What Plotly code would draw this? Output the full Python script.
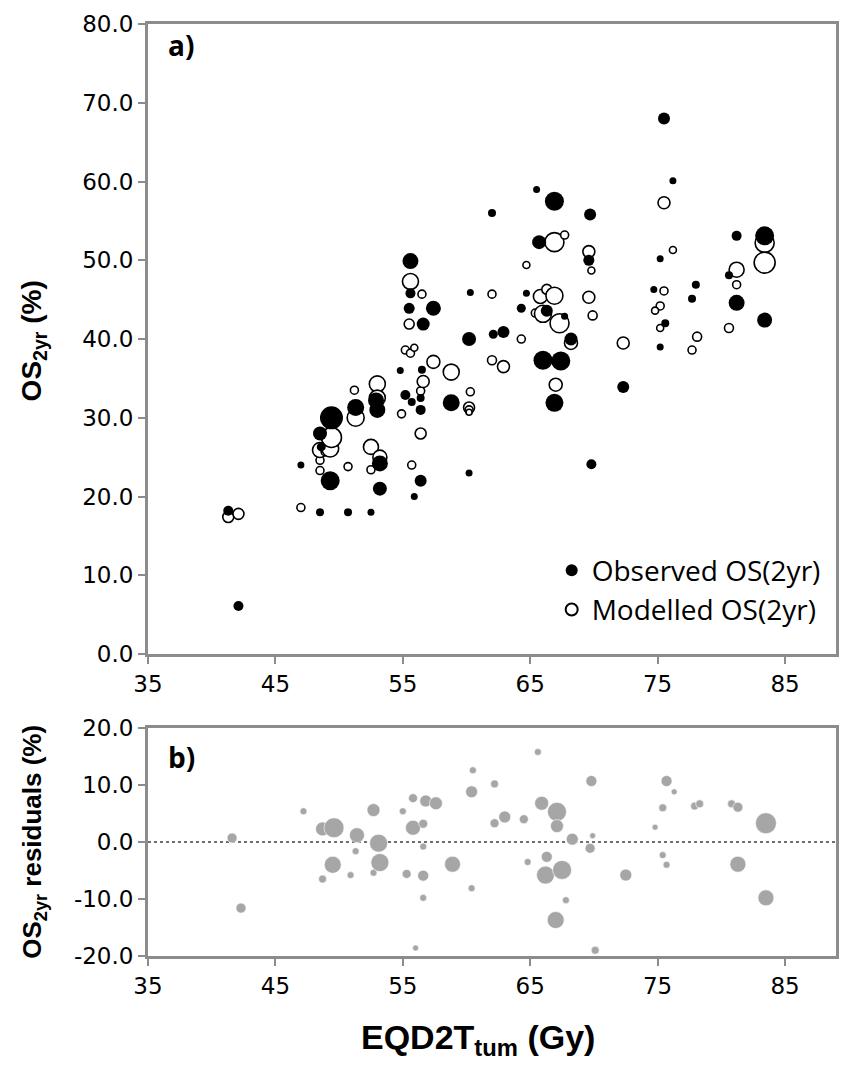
import plotly.graph_objects as go

# ---------------- data ----------------
# Observed OS(2yr): EQD2T_tum (Gy), OS (%), bubble weight
obs_x = [41.3, 42.1, 47.0, 48.5, 50.7, 52.5, 48.5, 48.6, 49.4, 49.3, 51.3, 52.9, 53.0, 53.2, 53.2,
         54.8, 55.2, 55.7, 56.4, 56.4, 56.4, 55.9, 56.5, 55.6, 55.6, 55.5, 57.4, 56.6, 58.8, 60.2,
         62.1, 62.9, 60.3, 60.2, 62.0, 64.7, 64.3, 65.5, 66.9, 65.7, 66.3, 67.7, 68.2, 66.0, 67.4,
         66.9, 69.7, 69.6, 69.8, 72.3, 75.5, 76.2, 75.2, 74.7, 78.0, 77.7, 75.6, 75.2, 81.2, 83.4,
         80.6, 81.2, 83.4]
obs_y = [18.2, 6.1, 24.0, 18.0, 18.0, 18.0, 28.0, 26.3, 30.0, 22.0, 31.3, 32.2, 31.0, 24.2, 21.0,
         36.0, 32.9, 32.0, 32.5, 31.0, 22.0, 20.0, 36.1, 49.9, 45.8, 43.9, 43.9, 41.9, 31.9, 40.0,
         40.6, 40.9, 45.9, 23.0, 56.0, 45.8, 43.9, 59.0, 57.5, 52.3, 43.6, 42.9, 40.0, 37.3, 37.2,
         31.9, 55.8, 50.0, 24.1, 33.9, 68.0, 60.1, 50.2, 46.3, 46.9, 45.1, 42.0, 39.0, 53.1, 53.1,
         48.1, 44.6, 42.4]
obs_n = [100, 100, 49, 64, 64, 49, 196, 81, 529, 361, 289, 256, 256, 256, 196,
         49, 100, 64, 64, 100, 144, 49, 64, 256, 100, 121, 225, 169, 289, 196,
         81, 144, 49, 49, 64, 49, 81, 49, 361, 196, 144, 49, 169, 361, 361,
         324, 144, 121, 100, 144, 144, 49, 49, 49, 64, 64, 64, 49, 100, 361,
         64, 256, 225]

# Modelled OS(2yr)
mod_x = [41.3, 42.1, 47.0, 48.5, 48.5, 48.5, 48.9, 49.3, 49.4, 50.7, 51.2, 51.3, 52.5, 52.5, 53.0,
         53.0, 53.2, 54.9, 55.2, 55.6, 55.9, 55.7, 56.4, 56.6, 56.4, 55.6, 56.5, 55.5, 57.4, 58.8,
         60.3, 60.2, 60.2, 60.2, 62.0, 62.0, 62.9, 64.3, 64.7, 65.4, 65.8, 66.3, 66.9, 66.0, 67.3,
         66.9, 67.7, 67.0, 68.2, 69.6, 69.8, 69.6, 69.9, 72.3, 75.5, 76.2, 75.5, 75.2, 74.8, 75.2,
         78.1, 77.7, 81.2, 81.2, 80.6, 83.4, 83.4]
mod_y = [17.4, 17.8, 18.6, 24.6, 23.3, 25.9, 25.7, 26.1, 27.5, 23.8, 33.5, 30.0, 26.3, 23.4, 34.3,
         32.5, 25.0, 30.5, 38.6, 38.2, 38.9, 24.0, 33.4, 34.6, 28.0, 47.3, 45.7, 41.9, 37.1, 35.8,
         33.3, 31.3, 31.0, 30.7, 45.7, 37.3, 36.5, 40.0, 49.4, 43.3, 45.4, 46.3, 45.5, 43.2, 42.0,
         52.3, 53.2, 34.2, 39.5, 51.1, 48.7, 45.3, 43.0, 39.5, 57.3, 51.3, 46.1, 44.2, 43.6, 41.4,
         40.3, 38.6, 48.8, 46.9, 41.4, 52.2, 49.7]
mod_n = [121, 121, 64, 64, 64, 225, 64, 289, 400, 64, 64, 289, 225, 64, 256,
         256, 196, 64, 64, 64, 49, 64, 64, 144, 121, 256, 64, 100, 169, 256,
         64, 121, 64, 36, 64, 81, 144, 64, 49, 64, 196, 100, 289, 289, 361,
         361, 64, 169, 169, 144, 49, 144, 81, 144, 144, 49, 64, 64, 49, 49,
         81, 64, 225, 64, 81, 361, 441]

# Residuals (observed - modelled), %
res_x = [41.6, 42.3, 47.2, 48.7, 49.6, 51.4, 52.7, 53.1, 51.3, 49.5, 48.7, 50.9, 52.7, 53.2, 55.0,
         55.8, 56.8, 57.6, 55.8, 56.6, 56.6, 55.3, 56.6, 56.6, 58.9, 60.4, 60.5, 60.4, 62.2, 62.2,
         63.0, 64.5, 65.6, 65.9, 67.1, 67.1, 68.3, 69.8, 69.9, 69.7, 64.8, 66.3, 66.2, 67.5, 67.8,
         67.0, 72.5, 75.7, 76.3, 75.4, 74.8, 75.4, 75.7, 77.9, 78.3, 80.8, 81.3, 83.5, 81.3, 83.5,
         56.0, 70.1]
res_y = [0.7, -11.6, 5.4, 2.3, 2.5, 1.2, 5.6, -0.2, -1.6, -4.0, -6.5, -5.8, -5.4, -3.6, 5.4,
         7.7, 7.2, 6.8, 2.5, 3.2, -0.8, -5.6, -5.9, -9.8, -3.9, 8.8, 12.6, -8.1, 10.2, 3.3,
         4.4, 4.0, 15.8, 6.8, 5.3, 2.8, 0.5, 10.7, 1.1, -1.1, -3.5, -2.6, -5.8, -4.9, -10.2,
         -13.7, -5.8, 10.7, 8.8, 6.0, 2.6, -2.3, -4.0, 6.3, 6.7, 6.7, 6.1, 3.3, -3.9, -9.8,
         -18.6, -19.0]
res_n = [100, 100, 49, 196, 400, 225, 169, 324, 49, 289, 64, 49, 49, 324, 49,
         81, 144, 169, 225, 81, 49, 81, 121, 49, 256, 144, 49, 49, 64, 81,
         144, 81, 49, 196, 361, 169, 144, 121, 36, 100, 49, 121, 324, 361, 49,
         289, 144, 121, 36, 64, 36, 49, 49, 64, 64, 64, 100, 441, 256, 256,
         36, 64]

x_ticks = [35, 45, 55, 65, 75, 85]
y1_ticks = [0, 10, 20, 30, 40, 50, 60, 70, 80]
y2_ticks = [-20, -10, 0, 10, 20]
y2_ticktext = ["-20.0", "-10.0", "0.0", "10.0", "20.0"]

# ---------------- figure ----------------
AX = "#8c8c8c"
TICKFONT = dict(family="DejaVu Sans", size=23, color="#000000")

fig = go.Figure()

fig.add_trace(go.Scatter(
    x=mod_x, y=mod_y, mode="markers", name="Modelled OS(2yr)", legendrank=2,
    marker=dict(size=mod_n, sizemode="area", sizeref=2, color="white", opacity=1,
                line=dict(color="black", width=1.6)),
    xaxis="x", yaxis="y"))
fig.add_trace(go.Scatter(
    x=obs_x, y=obs_y, mode="markers", name="Observed OS(2yr)", legendrank=1,
    marker=dict(size=obs_n, sizemode="area", sizeref=2, color="black", opacity=1,
                line=dict(color="black", width=0)),
    xaxis="x", yaxis="y"))
fig.add_trace(go.Scatter(
    x=res_x, y=res_y, mode="markers", showlegend=False,
    marker=dict(size=res_n, sizemode="area", sizeref=2, color="#a6a6a6", opacity=1,
                line=dict(color="white", width=0.6)),
    xaxis="x2", yaxis="y2"))

axis_common = dict(showline=True, linecolor=AX, linewidth=3, mirror=True,
                   showgrid=False, zeroline=False, ticks="outside",
                   tickcolor=AX, tickwidth=2, ticklen=7, tickfont=TICKFONT)

fig.update_layout(
    width=843, height=1073,
    margin=dict(l=148, r=4, t=24, b=117),
    paper_bgcolor="white", plot_bgcolor="white",
    xaxis=dict(domain=[0, 1], range=[35, 89], tickvals=x_ticks, anchor="y", **axis_common),
    yaxis=dict(domain=[0.324, 1.0], range=[0, 80], tickvals=y1_ticks, tickformat=".1f",
               anchor="x", **axis_common),
    xaxis2=dict(domain=[0, 1], range=[35, 89], tickvals=x_ticks, anchor="y2", **axis_common),
    yaxis2=dict(domain=[0, 0.2446], range=[-20, 20], tickvals=y2_ticks, ticktext=y2_ticktext,
                anchor="x2", **axis_common),
    showlegend=True,
    legend=dict(x=0.985, xanchor="right", y=0.345, yanchor="bottom",
                traceorder="normal", itemsizing="constant",
                bgcolor="rgba(0,0,0,0)",
                font=dict(family="Open Sans", size=28, color="black")),
    shapes=[dict(type="line", xref="x2 domain", yref="y2", x0=0, x1=1, y0=0, y1=0,
                 line=dict(color="#6f6f6f", width=2, dash="dot"), layer="below")],
)

annos = [
    dict(text="<b>a)</b>", x=0.026, y=0.9775, xanchor="left", yanchor="middle",
         font=dict(family="Open Sans", size=28)),
    dict(text="<b>b)</b>", x=0.026, y=0.2135, xanchor="left", yanchor="middle",
         font=dict(family="Open Sans", size=28)),
    dict(text="<b>OS<sub>2yr</sub> (%)</b>", x=-0.1664, y=0.66, textangle=-90,
         xanchor="center", yanchor="middle",
         font=dict(family="Liberation Sans", size=28)),
    dict(text="<b>OS<sub>2yr</sub> residuals (%)</b>", x=-0.1664, y=0.122, textangle=-90,
         xanchor="center", yanchor="middle",
         font=dict(family="Liberation Sans", size=26)),
    dict(text="<b>EQD2T<sub>tum</sub> (Gy)</b>", x=0.48, y=-0.09, xanchor="center",
         yanchor="middle", font=dict(family="Liberation Sans", size=34)),
]
for a in annos:
    a.update(xref="paper", yref="paper", showarrow=False)
    a["font"]["color"] = "black"
fig.update_layout(annotations=annos)

fig.write_html("out.html")
